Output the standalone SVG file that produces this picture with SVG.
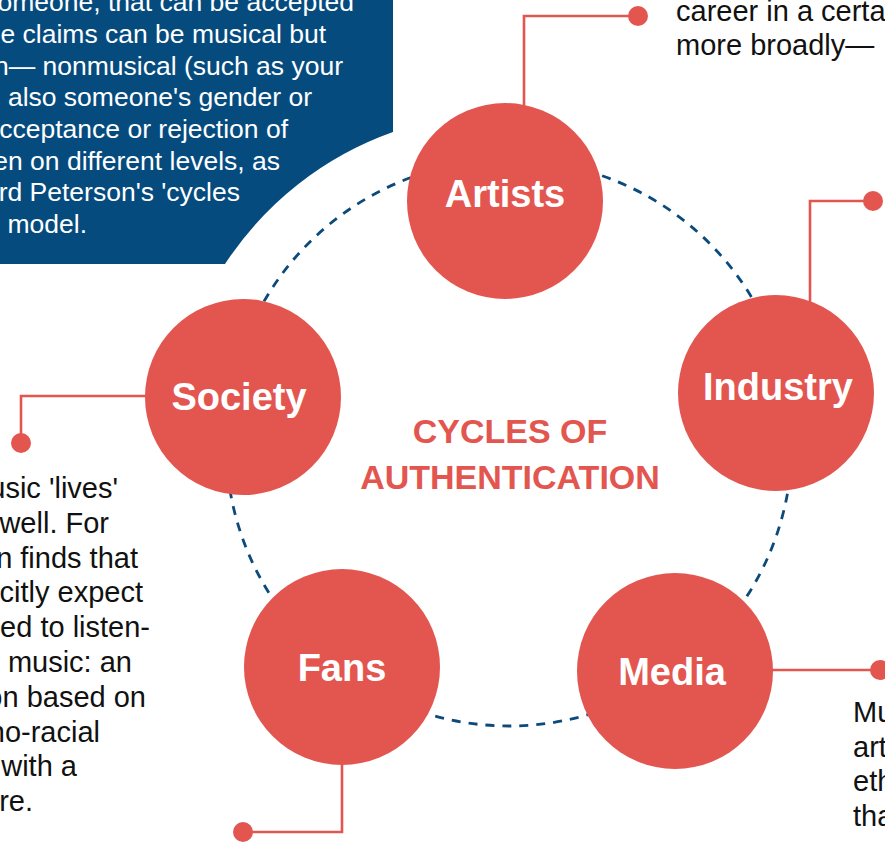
<svg xmlns="http://www.w3.org/2000/svg" width="885" height="842" viewBox="0 0 885 842">
  <style>
    .node { fill: #e35650; }
    .label { font-family: "Liberation Sans", Arial, sans-serif; font-weight: bold; font-size: 38px; fill: #ffffff; text-anchor: middle; }
    .title { font-family: "Liberation Sans", Arial, sans-serif; font-weight: bold; font-size: 34px; fill: #e35650; text-anchor: middle; }
    .leader { fill: none; stroke: #e35650; stroke-width: 2.6; }
    .dot { fill: #e35650; }
    .cycle { fill: none; stroke: #0b4a7a; stroke-width: 2.8; stroke-dasharray: 9 8; }
    .intro { font-family: "Liberation Sans", Arial, sans-serif; font-size: 26.5px; fill: #ffffff; text-anchor: end; }
    .body { font-family: "Liberation Sans", Arial, sans-serif; font-size: 29px; fill: #111111; }
    .body-end { text-anchor: end; }
  </style>

  <rect width="885" height="842" fill="#ffffff"/>

  <!-- intro panel with a round cut-out around the cycle -->
  <g id="intro-panel">
    <path d="M0,0 H393 V132 A334,334 0 0 0 225,264 H0 Z" fill="#064b7e"/>
    <text class="intro" x="354" y="11">omeone, that can be accepted</text>
    <text class="intro" x="326" y="43">e claims can be musical but</text>
    <text class="intro" x="343" y="75">n— nonmusical (such as your</text>
    <text class="intro" x="312" y="106">also someone's gender or</text>
    <text class="intro" x="288" y="138">cceptance or rejection of</text>
    <text class="intro" x="280" y="170">en on different levels, as</text>
    <text class="intro" x="240" y="201">rd Peterson's 'cycles</text>
    <text class="intro" x="87" y="233">model.</text>
  </g>

  <!-- dashed cycle and leader lines -->
  <g id="connectors">
    <circle class="cycle" cx="509" cy="443" r="283"/>
    <polyline class="leader" points="524,110 524,16 638,16"/>
    <circle class="dot" cx="638" cy="16" r="10"/>
    <polyline class="leader" points="810,305 810,201 873,201"/>
    <circle class="dot" cx="873" cy="201" r="10"/>
    <polyline class="leader" points="150,396 21,396 21,443"/>
    <circle class="dot" cx="21" cy="443" r="10"/>
    <polyline class="leader" points="342,760 342,832 243,832"/>
    <circle class="dot" cx="243" cy="832" r="10"/>
    <polyline class="leader" points="768,670 880,670"/>
    <circle class="dot" cx="880" cy="670" r="10"/>
  </g>

  <g id="node-artists">
    <circle class="node" cx="505" cy="201" r="98"/>
    <text class="label" x="505" y="207">Artists</text>
  </g>
  <g id="node-industry">
    <circle class="node" cx="776" cy="393" r="98"/>
    <text class="label" x="778" y="400">Industry</text>
  </g>
  <g id="node-media">
    <circle class="node" cx="675" cy="671" r="98"/>
    <text class="label" x="672" y="685">Media</text>
  </g>
  <g id="node-fans">
    <circle class="node" cx="342" cy="667" r="98"/>
    <text class="label" x="342" y="681">Fans</text>
  </g>
  <g id="node-society">
    <circle class="node" cx="243" cy="397" r="98"/>
    <text class="label" x="239" y="410">Society</text>
  </g>

  <g id="title">
    <text class="title" x="510" y="443">CYCLES OF</text>
    <text class="title" x="510" y="489">AUTHENTICATION</text>
  </g>

  <!-- side notes -->
  <g id="note-artists">
    <text class="body" x="676" y="21">career in a certa</text>
    <text class="body" x="676" y="55">more broadly—</text>
  </g>

  <g id="note-society">
    <text class="body body-end" x="118" y="498">usic 'lives'</text>
    <text class="body body-end" x="109" y="533">well. For</text>
    <text class="body body-end" x="138" y="568">n finds that</text>
    <text class="body body-end" x="143" y="602">citly expect</text>
    <text class="body body-end" x="150" y="637">ed to listen-</text>
    <text class="body body-end" x="132" y="672">music: an</text>
    <text class="body body-end" x="146" y="707">on based on</text>
    <text class="body body-end" x="100" y="742">no-racial</text>
    <text class="body body-end" x="77" y="776">with a</text>
    <text class="body body-end" x="33" y="811">re.</text>
  </g>

  <g id="note-media">
    <text class="body" x="853" y="722">Mu</text>
    <text class="body" x="853" y="757">art</text>
    <text class="body" x="853" y="791">eth</text>
    <text class="body" x="853" y="826">tha</text>
  </g>
</svg>
